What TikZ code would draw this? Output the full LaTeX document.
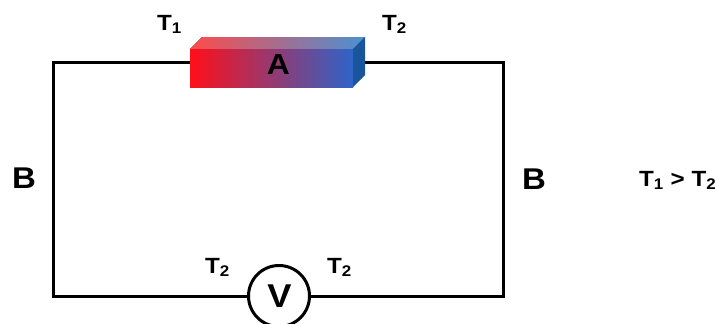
\documentclass[tikz,border=0pt]{standalone}
\usepackage{fontspec}
\setmainfont{Liberation Sans}
\usetikzlibrary{calc}
\definecolor{topred}{RGB}{255,75,75}
\definecolor{topblue}{RGB}{75,145,210}
\definecolor{sideblue}{RGB}{25,85,155}
\definecolor{frontred}{RGB}{255,15,25}
\definecolor{frontblue}{RGB}{45,100,200}
\newcommand{\wide}[1]{\scalebox{1.1}[1]{#1}}

\begin{document}
\begin{tikzpicture}[x=1pt, y=-1pt,
  wire/.style={line width=3pt},
  lbl/.style={anchor=base west, inner sep=0pt, font=\bfseries\fontsize{22}{22}\selectfont},
  big/.style={lbl, font=\bfseries\fontsize{30}{30}\selectfont}]
\useasboundingbox (0,0) rectangle (715,324);
% circuit corners
\coordinate (tl) at (53,62);
\coordinate (tr) at (503,62);
\coordinate (bl) at (53,296);
\coordinate (br) at (503,296);
\node[draw, circle, wire, minimum size=61pt, inner sep=0pt, fill=white] (V) at (279,296) {};
\draw[wire] (V.west) -- (bl) -- (tl) -- (tr) -- (br) -- (V.east);
\node[big, anchor=base, font=\bfseries\fontsize{33}{33}\selectfont] (Vlbl) at (279.5,307) {\wide{V}};
% bar A
\fill[left color=topred, right color=topblue]
  (190,49) -- (202,37) -- (365,37) -- (353,49) -- cycle;
\fill[sideblue] (353,49) -- (365,37) -- (365,75) -- (353,87) -- cycle;
\fill[left color=frontred, right color=frontblue]
  (190,49) rectangle (353,87);
\node[big, anchor=base, font=\bfseries\fontsize{29}{29}\selectfont] (A) at (278.5,74) {\wide{A}};
% temperatures
\node[lbl] (t1) at (157,30) {\wide{T\textsubscript{1}}};
\node[lbl] (t2) at (382,30) {\wide{T\textsubscript{2}}};
\node[lbl] (t3) at (205,273) {\wide{T\textsubscript{2}}};
\node[lbl] (t4) at (327,273) {\wide{T\textsubscript{2}}};
% conductor labels
\node[big] (b1) at (12,188) {\wide{B}};
\node[big] (b2) at (522,189) {\wide{B}};
\node[lbl] (rel) at (639,186) {\wide{T\textsubscript{1} > T\textsubscript{2}}};
\end{tikzpicture}
\end{document}
